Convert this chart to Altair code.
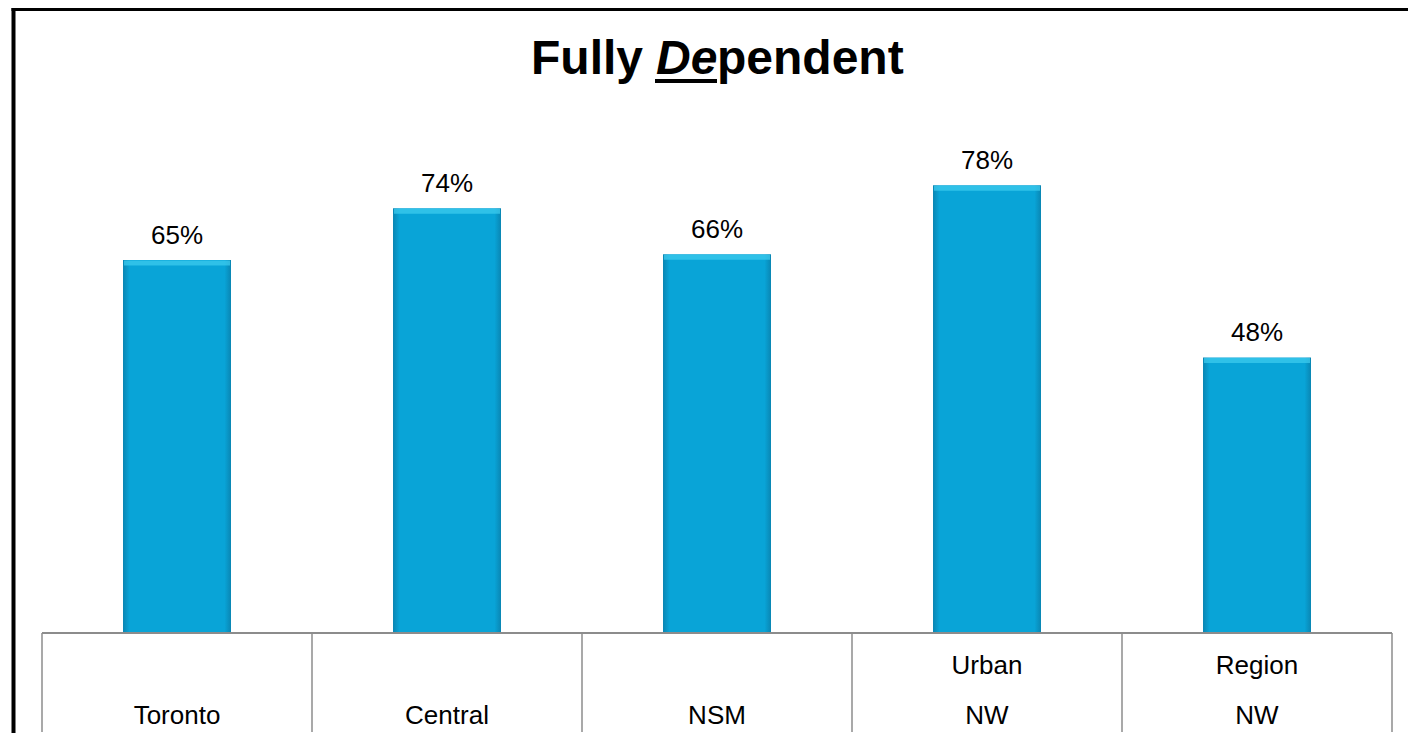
import altair as alt
import pandas as pd

# ---- data ----
categories = ["Toronto", "Central", "NSM", "Urban NW", "Region NW"]
label_line1 = ["", "", "", "Urban", "Region"]
label_line2 = ["Toronto", "Central", "NSM", "NW", "NW"]
values = [0.65, 0.74, 0.66, 0.78, 0.48]
value_labels = ["65%", "74%", "66%", "78%", "48%"]
title_parts = ["Fully", "De", "pendent"]

df = pd.DataFrame({"cat": categories, "l1": label_line1, "l2": label_line2,
                   "v": values, "lab": value_labels})

FONT = "Liberation Sans"
GRAY = "#8c8c8c"
W, H = 1350, 574

xscale = alt.Scale(paddingInner=0, paddingOuter=0)
x_plain = alt.X("cat:N", sort=categories, scale=xscale, axis=None)
y_enc = alt.Y("v:Q", scale=alt.Scale(domain=[0, 1]), axis=None)

base = alt.Chart(df)

bar_fill = alt.Gradient(
    gradient="linear", x1=0, x2=1, y1=0, y2=0,
    stops=[alt.GradientStop(color="#0a86b3", offset=0),
           alt.GradientStop(color="#09a4d7", offset=0.06),
           alt.GradientStop(color="#09a4d7", offset=0.94),
           alt.GradientStop(color="#0a86b3", offset=1)])

bars = base.mark_bar(width=alt.RelativeBandSize(0.4), fill=bar_fill).encode(
    x=x_plain, y=y_enc)

bevel = base.mark_tick(size=106, thickness=5, color="#40cdef", yOffset=3).encode(
    x=x_plain, y=y_enc)

vlabels = base.mark_text(font=FONT, fontSize=26, baseline="alphabetic", dy=-16,
                         color="black").encode(x=x_plain, y=y_enc, text="lab:N")

sep = base.mark_rule(color=GRAY, strokeWidth=1.5).encode(
    x=alt.X("cat:N", sort=categories, scale=xscale, axis=None, bandPosition=0),
    y=alt.value(H), y2=alt.value(H + 99))
sep_end = alt.Chart(df.tail(1)).mark_rule(color=GRAY, strokeWidth=1.5).encode(
    x=alt.X("cat:N", sort=categories, scale=xscale, axis=None, bandPosition=1),
    y=alt.value(H), y2=alt.value(H + 99))

baseline = alt.Chart(pd.DataFrame({"t": ["axis"]})).mark_rule(
    color=GRAY, strokeWidth=2).encode(x=alt.value(0), x2=alt.value(W), y=alt.value(H))

lab1 = base.mark_text(font=FONT, fontSize=26, baseline="alphabetic", color="black").encode(
    x=x_plain, y=alt.value(H + 41), text="l1:N")
lab2 = base.mark_text(font=FONT, fontSize=26, baseline="alphabetic", color="black").encode(
    x=x_plain, y=alt.value(H + 91), text="l2:N")

# title pieces
t1 = alt.Chart(pd.DataFrame({"t": [title_parts[0]]})).mark_text(
    font=FONT, fontSize=48, fontWeight="bold", align="right", baseline="alphabetic",
    color="black").encode(x=alt.value(601), y=alt.value(15), text="t:N")
t2 = alt.Chart(pd.DataFrame({"t": [title_parts[1]]})).mark_text(
    font=FONT, fontSize=48, fontWeight="bold", fontStyle="italic", align="left",
    baseline="alphabetic", color="black").encode(x=alt.value(614), y=alt.value(15), text="t:N")
t3 = alt.Chart(pd.DataFrame({"t": [title_parts[2]]})).mark_text(
    font=FONT, fontSize=48, fontWeight="bold", align="left", baseline="alphabetic",
    color="black").encode(x=alt.value(675), y=alt.value(15), text="t:N")
underline = alt.Chart(pd.DataFrame({"t": [title_parts[1]]})).mark_rule(
    color="black", strokeWidth=4).encode(x=alt.value(613), x2=alt.value(675), y=alt.value(22))

# frame lines
frame_top = alt.Chart(pd.DataFrame({"t": ["top"]})).mark_rule(
    color="black", strokeWidth=4).encode(x=alt.value(-30.5), x2=alt.value(W + 40), y=alt.value(-50))
frame_left = alt.Chart(pd.DataFrame({"t": ["left"]})).mark_rule(
    color="black", strokeWidth=4).encode(x=alt.value(-28.5), y=alt.value(-52), y2=alt.value(H + 120))

chart = alt.layer(
    bars, bevel, vlabels, sep, sep_end, baseline, lab1, lab2,
    t1, t2, t3, underline, frame_top, frame_left
).properties(
    width=W, height=H,
    autosize=alt.AutoSizeParams(type="none"),
    padding={"left": 34, "top": 51, "right": 16, "bottom": 100},
    background="white",
).configure_view(stroke=None)

chart.save("out.html", embed_options={"renderer": "svg", "actions": False})
